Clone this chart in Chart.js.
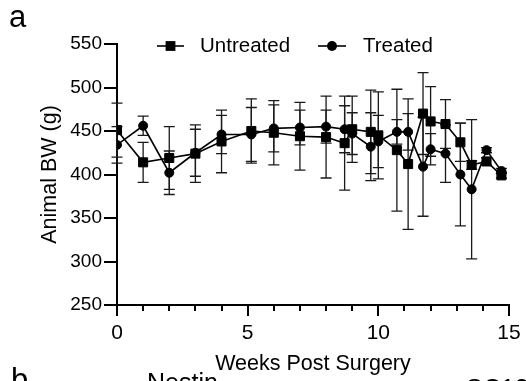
<!DOCTYPE html>
<html>
<head>
<meta charset="utf-8">
<script src="https://cdn.jsdelivr.net/npm/chart.js@4"></script>
<style>
  html, body { margin: 0; padding: 0; background: #fff; }
  #wrap { position: relative; width: 526px; height: 381px; }
</style>
</head>
<body>
<div id="wrap"><canvas id="bw-chart"></canvas></div>
<script>
// weeks post surgery (sampling days / 7)
const weeks = [0, 1, 2, 3, 4, 5.14, 6, 7, 8, 8.71, 9, 9.71, 10, 10.71, 11.14, 11.71, 12, 12.57, 13.14, 13.57, 14.14, 14.71];

const untreated   = [451, 414, 419, 424, 438, 450, 448, 444, 443, 436, 452, 449, 445, 428, 412, 470, 461, 458, 437, 411, 415, 399];
const untreatedSD = [31, 23, 36, 33, 36, 37, 37, 39, 47, 54, 38, 48, 50, 70, 75, 47, 40, 28, 22, 5, 4, 3];

const treated   = [434, 456, 402, 425, 446, 446, 453, 454, 455, 452, 447, 432, 438, 449, 449, 409, 429, 424, 400, 383, 428, 404];
const treatedSD = [21, 11, 25, 27, 22, 31, 27, 20, 19, 27, 24, 39, 30, 14, 21, 57, 18, 33, 59, 80, 3, 3];

const yTicks = { min: 250, max: 550, step: 50 };
const xTicks = { min: 0, max: 15, step: 1, major: 5 };

const FONT = "'Liberation Sans', Arial, Helvetica, sans-serif";

function toPoints(ys) {
    return weeks.map(function(w, i) { return { x: w, y: ys[i] }; });
}

// SD whiskers, drawn behind the lines and markers
const errorBars = {
    id: 'errorBars',
    beforeDatasetsDraw: function(chart) {
        var ctx = chart.ctx;
        var xs = chart.scales.x, ys = chart.scales.y;
        ctx.save();
        ctx.strokeStyle = '#1a1a1a';
        ctx.lineWidth = 1.3;
        chart.data.datasets.forEach(function(ds) {
            ds.sd.forEach(function(sd, i) {
                var px = xs.getPixelForValue(weeks[i]);
                var top = ys.getPixelForValue(ds.data[i].y + sd);
                var bot = ys.getPixelForValue(ds.data[i].y - sd);
                ctx.beginPath();
                ctx.moveTo(px, top); ctx.lineTo(px, bot);
                ctx.moveTo(px - 5.5, top); ctx.lineTo(px + 5.5, top);
                ctx.moveTo(px - 5.5, bot); ctx.lineTo(px + 5.5, bot);
                ctx.stroke();
            });
        });
        ctx.restore();
    }
};

// short ticks at every week, long ones come from the grid
const minorTicks = {
    id: 'minorTicks',
    afterDraw: function(chart) {
        var ctx = chart.ctx;
        var xs = chart.scales.x;
        var bottom = chart.chartArea.bottom;
        ctx.save();
        ctx.strokeStyle = '#000';
        ctx.lineWidth = 2;
        for (var w = xTicks.min; w <= xTicks.max; w += xTicks.step) {
            if (w % xTicks.major === 0) continue;
            var px = Math.round(xs.getPixelForValue(w));
            ctx.beginPath();
            ctx.moveTo(px, bottom);
            ctx.lineTo(px, bottom + 6);
            ctx.stroke();
        }
        ctx.restore();
    }
};

// legend with line through marker, plus panel letters
const decorations = {
    id: 'decorations',
    afterDraw: function(chart) {
        var ctx = chart.ctx;
        ctx.save();
        ctx.fillStyle = '#000';
        ctx.strokeStyle = '#000';
        ctx.lineWidth = 1.6;
        var ly = 46;

        ctx.beginPath(); ctx.moveTo(157, ly); ctx.lineTo(184, ly); ctx.stroke();
        ctx.fillRect(170.5 - 4.9, ly - 4.9, 9.8, 9.8);
        ctx.beginPath(); ctx.moveTo(318, ly); ctx.lineTo(346, ly); ctx.stroke();
        ctx.beginPath(); ctx.arc(332, ly, 5, 0, Math.PI * 2); ctx.fill();

        ctx.font = '20.5px ' + FONT;
        ctx.textBaseline = 'middle';
        ctx.textAlign = 'left';
        ctx.fillText('Untreated', 200, ly);
        ctx.fillText('Treated', 363, ly);

        ctx.textBaseline = 'alphabetic';
        ctx.font = '31px ' + FONT;
        ctx.fillText('a', 9, 27);
        ctx.fillText('b', 11, 390);
        ctx.font = '25px ' + FONT;
        ctx.fillText('Nestin', 147, 391);
        ctx.fillText('SC121', 466, 397);
        ctx.restore();
    }
};

new Chart(document.getElementById('bw-chart'), {
    type: 'scatter',
    data: {
        datasets: [
            {
                label: 'Untreated',
                data: toPoints(untreated),
                sd: untreatedSD,
                showLine: true,
                borderColor: '#000',
                backgroundColor: '#000',
                borderWidth: 1.6,
                pointStyle: 'rect',
                pointRadius: 6.4,
                pointBorderWidth: 1
            },
            {
                label: 'Treated',
                data: toPoints(treated),
                sd: treatedSD,
                showLine: true,
                borderColor: '#000',
                backgroundColor: '#000',
                borderWidth: 1.6,
                pointStyle: 'circle',
                pointRadius: 4.5,
                pointBorderWidth: 1
            }
        ]
    },
    options: {
        responsive: true,
        maintainAspectRatio: false,
        animation: false,
        devicePixelRatio: 1,
        layout: { padding: { left: 0, right: 17, top: 44, bottom: 0 } },
        plugins: {
            legend: { display: false },
            tooltip: { enabled: false }
        },
        scales: {
            x: {
                type: 'linear',
                min: xTicks.min,
                max: xTicks.max,
                afterFit: function(scale) { scale.height = 76; },
                border: { display: true, color: '#000', width: 2 },
                grid: {
                    drawOnChartArea: false,
                    drawTicks: true,
                    tickLength: 11,
                    lineWidth: 2,
                    color: function(c) {
                        return c.tick && c.tick.value % xTicks.major === 0 ? '#000' : 'rgba(0,0,0,0)';
                    }
                },
                ticks: {
                    stepSize: xTicks.step,
                    autoSkip: false,
                    maxRotation: 0,
                    padding: 5,
                    color: '#000',
                    font: { family: FONT, size: 21 },
                    callback: function(v) { return v % xTicks.major === 0 ? v : ''; }
                },
                title: {
                    display: true,
                    text: 'Weeks Post Surgery',
                    color: '#000',
                    font: { family: FONT, size: 21.5 },
                    padding: { top: 0, bottom: 4 }
                }
            },
            y: {
                min: yTicks.min,
                max: yTicks.max,
                afterFit: function(scale) { scale.width = 117; },
                border: { display: true, color: '#000', width: 2 },
                grid: {
                    drawOnChartArea: false,
                    drawTicks: true,
                    tickLength: 13,
                    lineWidth: 2,
                    color: '#000'
                },
                ticks: {
                    stepSize: yTicks.step,
                    padding: 2,
                    color: '#000',
                    font: { family: FONT, size: 19 }
                },
                title: {
                    display: true,
                    text: 'Animal BW (g)',
                    color: '#000',
                    font: { family: FONT, size: 21.5 },
                    padding: { top: 37, bottom: 0 }
                }
            }
        }
    },
    plugins: [errorBars, minorTicks, decorations]
});
</script>
</body>
</html>
